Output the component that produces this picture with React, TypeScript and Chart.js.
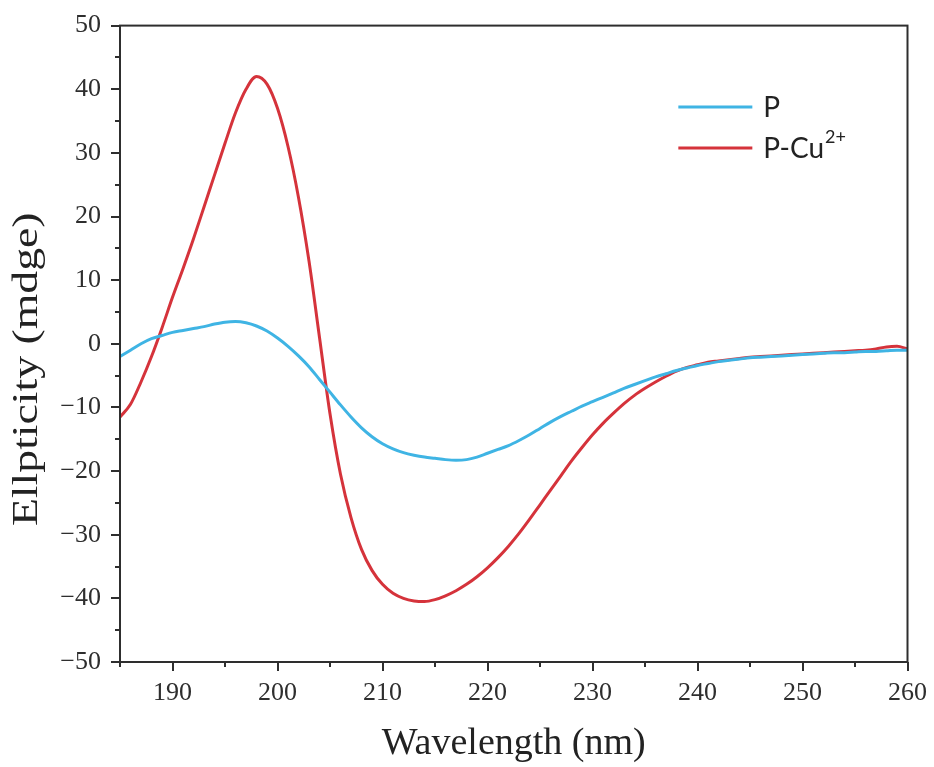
import React, { useEffect, useRef } from "react";
import { Chart, registerables } from "chart.js";

Chart.register(...registerables);

// ---- data ----
const wavelengths = [
  185, 186, 187, 188, 189, 190, 191, 192, 193, 194, 195, 196, 197, 198, 199,
  200, 201, 202, 203, 204, 205, 206, 207, 208, 209, 210, 211, 212, 213, 214,
  215, 216, 217, 218, 219, 220, 221, 222, 223, 224, 225, 226, 227, 228, 229,
  230, 231, 232, 233, 234, 235, 236, 237, 238, 239, 240, 241, 242, 243, 244,
  245, 246, 247, 248, 249, 250, 251, 252, 253, 254, 255, 256, 257, 258, 259,
  260,
];

const seriesP = [
  -2, -1, 0, 0.8, 1.3, 1.8, 2.1, 2.4, 2.7, 3.1, 3.4, 3.5, 3.3, 2.8, 2,
  0.9, -0.4, -1.9, -3.6, -5.6, -7.6, -9.6, -11.5, -13.2, -14.6, -15.7, -16.5, -17.1, -17.5, -17.8,
  -18, -18.2, -18.3, -18.2, -17.8, -17.2, -16.6, -16, -15.2, -14.3, -13.3, -12.3, -11.4, -10.6, -9.8,
  -9.1, -8.4, -7.7, -7, -6.4, -5.8, -5.2, -4.7, -4.2, -3.8, -3.4, -3.1, -2.8, -2.6, -2.4,
  -2.2, -2.1, -2, -1.9, -1.8, -1.7, -1.6, -1.5, -1.4, -1.4, -1.3, -1.2, -1.2, -1.1, -1.0,
  -1.0,
];

const seriesPCu = [
  -11.5, -9.5, -6, -2, 2.5, 7.3, 11.8, 16.5, 21.5, 26.5, 31.5, 36.3, 40, 42, 40.8,
  37, 31, 23, 13, 1, -11, -20.5, -27.3, -32.3, -35.6, -37.8, -39.2, -40, -40.4, -40.5,
  -40.2, -39.6, -38.8, -37.8, -36.6, -35.2, -33.6, -31.8, -29.8, -27.6, -25.3, -23, -20.7, -18.4, -16.3,
  -14.3, -12.5, -10.9, -9.4, -8.1, -7, -6, -5.1, -4.3, -3.7, -3.3, -2.9, -2.7, -2.5, -2.3,
  -2.1, -2, -1.9, -1.8, -1.7, -1.6, -1.5, -1.4, -1.3, -1.2, -1.1, -1, -0.8, -0.5, -0.4,
  -0.8,
];

const seriesLabels = ["P", "P-Cu"];
const seriesSuperscripts = ["", "2+"];
const seriesColors = ["#3fb4e4", "#d5333b"];

const xMin = 185;
const xMax = 260;
const yMin = -50;
const yMax = 50;
const xTitle = "Wavelength (nm)";
const yTitle = "Ellpticity (mdge)";

const SERIF = '"Liberation Serif", "Times New Roman", Times, serif';
const SANS = 'Lato, "Open Sans", "Noto Sans", sans-serif';
const AXIS_COLOR = "#2e2e2e";

const framePlugin = {
  id: "frameAndTicks",
  afterDraw(chart: any) {
    const { ctx, chartArea } = chart;
    const xs = chart.scales.x;
    const ys = chart.scales.y;
    ctx.save();
    ctx.strokeStyle = AXIS_COLOR;
    ctx.lineWidth = 2;
    ctx.lineCap = "butt";
    ctx.beginPath();
    xs.ticks.forEach((t: any) => {
      const px = Math.round(xs.getPixelForValue(t.value));
      const len = t.value % 10 === 0 ? 9 : 5;
      ctx.moveTo(px, chartArea.bottom);
      ctx.lineTo(px, chartArea.bottom + len);
    });
    ys.ticks.forEach((t: any) => {
      const py = Math.round(ys.getPixelForValue(t.value));
      const len = t.value % 10 === 0 ? 9 : 5;
      ctx.moveTo(chartArea.left, py);
      ctx.lineTo(chartArea.left - len, py);
    });
    ctx.stroke();
    ctx.strokeRect(
      chartArea.left,
      chartArea.top,
      chartArea.right - chartArea.left,
      chartArea.bottom - chartArea.top
    );
    // y-axis title (slightly stretched along its length, as in the reference)
    const h = chartArea.bottom - chartArea.top;
    ctx.translate(28, chartArea.top + h * 0.54);
    ctx.rotate(-Math.PI / 2);
    ctx.scale(1.27, 1);
    ctx.fillStyle = "#222222";
    ctx.font = `36px ${SERIF}`;
    ctx.textAlign = "center";
    ctx.textBaseline = "middle";
    ctx.fillText(yTitle, 0, 0);
    ctx.restore();
  },
};

const legendPlugin = {
  id: "customLegend",
  afterDraw(chart: any) {
    const { ctx, chartArea } = chart;
    const w = chartArea.right - chartArea.left;
    const h = chartArea.bottom - chartArea.top;
    const x0 = chartArea.left + w * 0.709;
    const lineLen = 74;
    const y0 = chartArea.top + h * 0.128;
    const rowGap = 41;
    ctx.save();
    chart.data.datasets.forEach((ds: any, i: number) => {
      const y = y0 + i * rowGap;
      ctx.strokeStyle = ds.borderColor;
      ctx.lineWidth = 3;
      ctx.beginPath();
      ctx.moveTo(x0, y);
      ctx.lineTo(x0 + lineLen, y);
      ctx.stroke();
      ctx.fillStyle = "#222222";
      ctx.textBaseline = "middle";
      ctx.textAlign = "left";
      ctx.font = `28px ${SANS}`;
      const tx = x0 + lineLen + 11;
      ctx.fillText(seriesLabels[i], tx, y + 1);
      const sup = seriesSuperscripts[i];
      if (sup) {
        const mw = ctx.measureText(seriesLabels[i]).width;
        ctx.font = `18px ${SANS}`;
        ctx.fillText(sup, tx + mw + 1, y - 11);
      }
    });
    ctx.restore();
  },
};

export default function App() {
  const canvasRef = useRef<HTMLCanvasElement | null>(null);

  useEffect(() => {
    const canvas = canvasRef.current;
    if (!canvas) return;
    const datasets = [seriesP, seriesPCu].map((s, i) => ({
      label: seriesLabels[i] + seriesSuperscripts[i],
      data: wavelengths.map((w, j) => ({ x: w, y: s[j] })),
      borderColor: seriesColors[i],
      backgroundColor: seriesColors[i],
      borderWidth: 3,
      pointRadius: 0,
      cubicInterpolationMode: "monotone" as const,
      fill: false,
    }));
    const chart = new Chart(canvas, {
      type: "line",
      data: { datasets },
      options: {
        animation: false,
        responsive: false,
        devicePixelRatio: 1,
        layout: { padding: { top: 25, right: 24, left: 0, bottom: 0 } },
        plugins: {
          legend: { display: false },
          tooltip: { enabled: false },
        },
        scales: {
          x: {
            type: "linear",
            min: xMin,
            max: xMax,
            grid: {
              display: true,
              drawOnChartArea: false,
              drawTicks: true,
              tickLength: 9,
              color: "transparent",
              tickColor: "transparent",
            },
            border: { display: false },
            ticks: {
              stepSize: 5,
              autoSkip: false,
              maxRotation: 0,
              padding: 7,
              color: AXIS_COLOR,
              font: { family: SERIF, size: 26 },
              callback: (v: any) => (Number(v) % 10 === 0 ? String(v) : ""),
            },
            title: {
              display: true,
              text: xTitle,
              color: "#222222",
              font: { family: SERIF, size: 38 },
              padding: { top: 0, bottom: 0 },
            },
            afterFit: (s: any) => {
              s.height = 105;
            },
          },
          y: {
            type: "linear",
            min: yMin,
            max: yMax,
            grid: {
              display: true,
              drawOnChartArea: false,
              drawTicks: true,
              tickLength: 9,
              color: "transparent",
              tickColor: "transparent",
            },
            border: { display: false },
            ticks: {
              stepSize: 5,
              autoSkip: false,
              padding: 10,
              color: AXIS_COLOR,
              font: { family: SERIF, size: 26 },
              callback: (v: any) =>
                Number(v) % 10 === 0 ? String(v).replace("-", "\u2212") : "",
            },
            title: { display: false },
            afterFit: (s: any) => {
              s.width = 120;
            },
          },
        },
      },
      plugins: [framePlugin, legendPlugin],
    });
    return () => chart.destroy();
  }, []);

  return (
    <div
      style={{
        position: "absolute",
        left: 0,
        top: 0,
        width: 934,
        height: 767,
        background: "#ffffff",
      }}
    >
      <canvas ref={canvasRef} width={934} height={767} />
    </div>
  );
}
